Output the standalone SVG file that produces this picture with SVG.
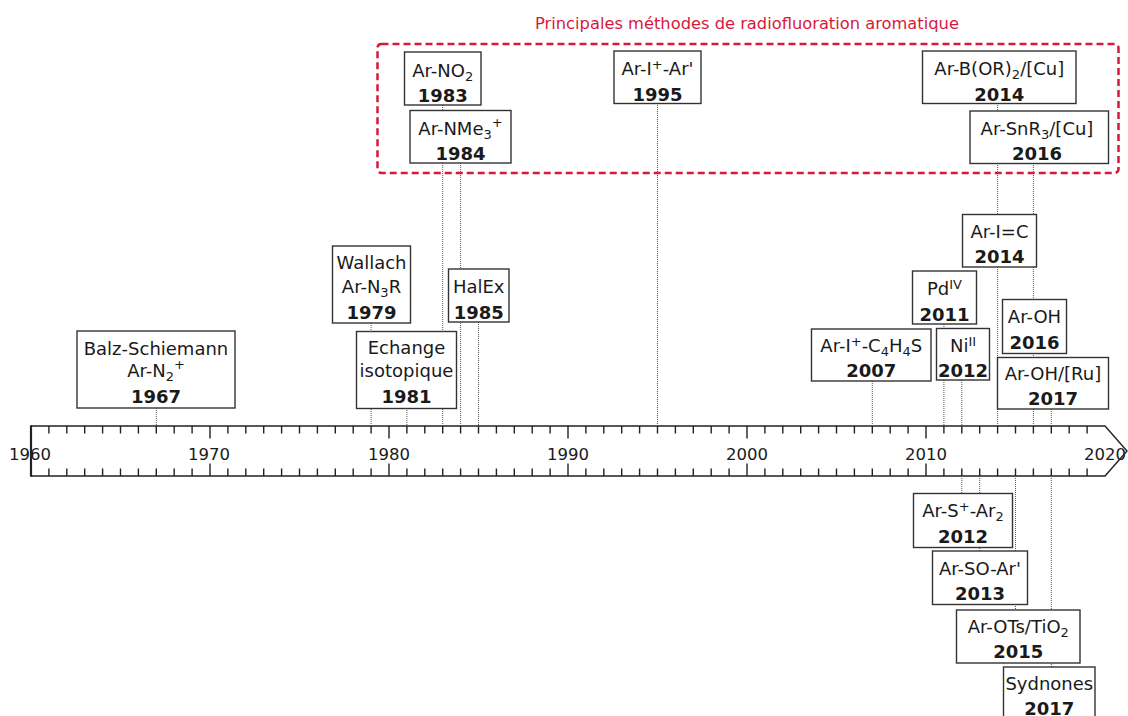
<svg xmlns="http://www.w3.org/2000/svg" width="1128" height="716" viewBox="0 0 1128 716">
<style>
.t{font-family:"DejaVu Sans",sans-serif;font-size:18px;fill:#1a1a1a;text-anchor:middle}
.y{font-weight:bold;font-size:18px}
.s{font-size:13px}
.box{fill:#fff;stroke:#333;stroke-width:1.4}
.con{stroke:#555;stroke-width:1;stroke-dasharray:1 1;fill:none}
.ax{stroke:#222;stroke-width:1.4;fill:none}
.lab{font-family:"DejaVu Sans",sans-serif;font-size:16.5px;fill:#1a1a1a;text-anchor:middle}
</style>
<rect width="1128" height="716" fill="#fff"/>

<g id="group-title">
<rect x="377.5" y="44" width="741" height="129" rx="4" fill="none" stroke="#d7193d" stroke-width="2.5" stroke-dasharray="7 4"/>
<text x="747" y="29" style="font-family:'DejaVu Sans',sans-serif;font-size:16.3px;fill:#d7193d;text-anchor:middle">Principales méthodes de radiofluoration aromatique</text>
</g>

<g id="axis">
<text class="lab" x="30" y="460">1960</text>
<text class="lab" x="209" y="460">1970</text>
<text class="lab" x="389" y="460">1980</text>
<text class="lab" x="568" y="460">1990</text>
<text class="lab" x="747" y="460">2000</text>
<text class="lab" x="926" y="460">2010</text>
<text class="lab" x="1105" y="460">2020</text>
<path class="ax" d="M31 426H1105L1127 451L1105 476H31"/>
<path d="M31 425.3V476.7" stroke="#222" stroke-width="2.2"/>
<path class="ax" stroke-width="1.2" d="M48.9 426V433.5M66.8 426V433.5M84.7 426V433.5M102.6 426V433.5M120.5 426V433.5M138.4 426V433.5M156.3 426V433.5M174.2 426V433.5M192.1 426V433.5M227.9 426V433.5M245.8 426V433.5M263.7 426V433.5M281.6 426V433.5M299.5 426V433.5M317.4 426V433.5M335.3 426V433.5M353.2 426V433.5M371.1 426V433.5M406.9 426V433.5M424.8 426V433.5M442.7 426V433.5M460.6 426V433.5M478.5 426V433.5M496.4 426V433.5M514.3 426V433.5M532.2 426V433.5M550.1 426V433.5M585.9 426V433.5M603.8 426V433.5M621.7 426V433.5M639.6 426V433.5M657.5 426V433.5M675.4 426V433.5M693.3 426V433.5M711.2 426V433.5M729.1 426V433.5M764.9 426V433.5M782.8 426V433.5M800.7 426V433.5M818.6 426V433.5M836.5 426V433.5M854.4 426V433.5M872.3 426V433.5M890.2 426V433.5M908.1 426V433.5M943.9 426V433.5M961.8 426V433.5M979.7 426V433.5M997.6 426V433.5M1015.5 426V433.5M1033.4 426V433.5M1051.3 426V433.5M1069.2 426V433.5M1087.1 426V433.5M210 426V438.5M389 426V438.5M568 426V438.5M747 426V438.5M926 426V438.5"/>
<path class="ax" stroke-width="1.2" d="M48.9 476V468.5M66.8 476V468.5M84.7 476V468.5M102.6 476V468.5M120.5 476V468.5M138.4 476V468.5M156.3 476V468.5M174.2 476V468.5M192.1 476V468.5M227.9 476V468.5M245.8 476V468.5M263.7 476V468.5M281.6 476V468.5M299.5 476V468.5M317.4 476V468.5M335.3 476V468.5M353.2 476V468.5M371.1 476V468.5M406.9 476V468.5M424.8 476V468.5M442.7 476V468.5M460.6 476V468.5M478.5 476V468.5M496.4 476V468.5M514.3 476V468.5M532.2 476V468.5M550.1 476V468.5M585.9 476V468.5M603.8 476V468.5M621.7 476V468.5M639.6 476V468.5M657.5 476V468.5M675.4 476V468.5M693.3 476V468.5M711.2 476V468.5M729.1 476V468.5M764.9 476V468.5M782.8 476V468.5M800.7 476V468.5M818.6 476V468.5M836.5 476V468.5M854.4 476V468.5M872.3 476V468.5M890.2 476V468.5M908.1 476V468.5M943.9 476V468.5M961.8 476V468.5M979.7 476V468.5M997.6 476V468.5M1015.5 476V468.5M1033.4 476V468.5M1051.3 476V468.5M1069.2 476V468.5M1087.1 476V468.5M210 476V463.5M389 476V463.5M568 476V463.5M747 476V463.5M926 476V463.5"/>
</g>

<g id="connectors">
<path class="con" d="M156.3 408V426M371.1 323V426M406.9 408V426M442.7 105V426M460.6 163V426M478.5 322V426M657.5 103V426M872.3 381V426M943.9 324V426M961.8 380V426M997.6 103V426M1033.4 163V426M1051.3 409V426M961.8 476V493M979.7 476V551M1015.5 476V610M1051.3 476V667"/>
</g>

<g id="n1967"><rect class="box" x="77" y="331" width="158" height="77"/>
<text class="t" x="156" y="355">Balz-Schiemann</text>
<text class="t" x="156" y="377">Ar-N<tspan class="s" dy="4">2</tspan><tspan class="s" dy="-12">+</tspan></text>
<text class="t y" x="156" y="403">1967</text></g>

<g id="n1979"><rect class="box" x="332.5" y="246" width="78" height="77"/>
<text class="t" x="371.5" y="269">Wallach</text>
<text class="t" x="371.5" y="293">Ar-N<tspan class="s" dy="4">3</tspan><tspan dy="-4">R</tspan></text>
<text class="t y" x="371.5" y="319">1979</text></g>

<g id="n1981"><rect class="box" x="356.5" y="331.5" width="100" height="77"/>
<text class="t" x="406.5" y="353.5">Echange</text>
<text class="t" x="406.5" y="377">isotopique</text>
<text class="t y" x="406.5" y="403">1981</text></g>

<g id="n1985"><rect class="box" x="448.5" y="269" width="60.5" height="53"/>
<text class="t" x="478.7" y="293">HalEx</text>
<text class="t y" x="478.7" y="319">1985</text></g>

<g id="n1983"><rect class="box" x="404.5" y="52" width="76.5" height="53"/>
<text class="t" x="442.7" y="76.5">Ar-NO<tspan class="s" dy="4">2</tspan></text>
<text class="t y" x="442.7" y="101.5">1983</text></g>

<g id="n1984"><rect class="box" x="410" y="110.5" width="101" height="52.5"/>
<text class="t" x="460.5" y="135">Ar-NMe<tspan class="s" dy="4">3</tspan><tspan class="s" dy="-12">+</tspan></text>
<text class="t y" x="460.5" y="159.5">1984</text></g>

<g id="n1995"><rect class="box" x="614" y="51" width="87" height="52.5"/>
<text class="t" x="657.5" y="75">Ar-I<tspan class="s" dy="-6">+</tspan><tspan dy="6">-Ar'</tspan></text>
<text class="t y" x="657.5" y="100.5">1995</text></g>

<g id="n2014a"><rect class="box" x="922.5" y="51" width="153.5" height="52.5"/>
<text class="t" x="999.3" y="75">Ar-B(OR)<tspan class="s" dy="4">2</tspan><tspan dy="-4">/[Cu]</tspan></text>
<text class="t y" x="999.3" y="100.5">2014</text></g>

<g id="n2016a"><rect class="box" x="970" y="111" width="138.5" height="52.5"/>
<text class="t" x="1037" y="135">Ar-SnR<tspan class="s" dy="4">3</tspan><tspan dy="-4">/[Cu]</tspan></text>
<text class="t y" x="1037" y="160">2016</text></g>

<g id="n2014b"><rect class="box" x="962.5" y="214.5" width="74" height="52.5"/>
<text class="t" x="999.5" y="237.5">Ar-I=C</text>
<text class="t y" x="999.5" y="263">2014</text></g>

<g id="n2011"><rect class="box" x="912.5" y="271" width="64" height="53"/>
<text class="t" x="944.5" y="295">Pd<tspan class="s" dy="-6">IV</tspan></text>
<text class="t y" x="944.5" y="320.5">2011</text></g>

<g id="n2012a"><rect class="box" x="936.5" y="328.5" width="53" height="51.5"/>
<text class="t" x="963" y="351.5">Ni<tspan class="s" dy="-6">II</tspan></text>
<text class="t y" x="963" y="376.5">2012</text></g>

<g id="n2007"><rect class="box" x="811.5" y="329" width="119.5" height="52"/>
<text class="t" x="871.3" y="351.5">Ar-I<tspan class="s" dy="-6">+</tspan><tspan dy="6">-C</tspan><tspan class="s" dy="4">4</tspan><tspan dy="-4">H</tspan><tspan class="s" dy="4">4</tspan><tspan dy="-4">S</tspan></text>
<text class="t y" x="871.3" y="376.5">2007</text></g>

<g id="n2016b"><rect class="box" x="1002.5" y="299.5" width="64" height="54"/>
<text class="t" x="1034.5" y="323">Ar-OH</text>
<text class="t y" x="1034.5" y="349">2016</text></g>

<g id="n2017a"><rect class="box" x="997.5" y="357.5" width="111" height="51.5"/>
<text class="t" x="1053" y="380">Ar-OH/[Ru]</text>
<text class="t y" x="1053" y="405">2017</text></g>

<g id="n2012b"><rect class="box" x="913.5" y="493.5" width="99" height="54"/>
<text class="t" x="963" y="517">Ar-S<tspan class="s" dy="-6">+</tspan><tspan dy="6">-Ar</tspan><tspan class="s" dy="4">2</tspan></text>
<text class="t y" x="963" y="542.5">2012</text></g>

<g id="n2013"><rect class="box" x="932.5" y="551" width="95" height="53.5"/>
<text class="t" x="980" y="575">Ar-SO-Ar'</text>
<text class="t y" x="980" y="600">2013</text></g>

<g id="n2015"><rect class="box" x="956.5" y="610" width="123.5" height="53"/>
<text class="t" x="1018.3" y="633">Ar-OTs/TiO<tspan class="s" dy="4">2</tspan></text>
<text class="t y" x="1018.3" y="658">2015</text></g>

<g id="n2017b"><rect class="box" x="1003.5" y="667" width="91.5" height="60"/>
<text class="t" x="1049.3" y="690">Sydnones</text>
<text class="t y" x="1049.3" y="715">2017</text></g>
</svg>
